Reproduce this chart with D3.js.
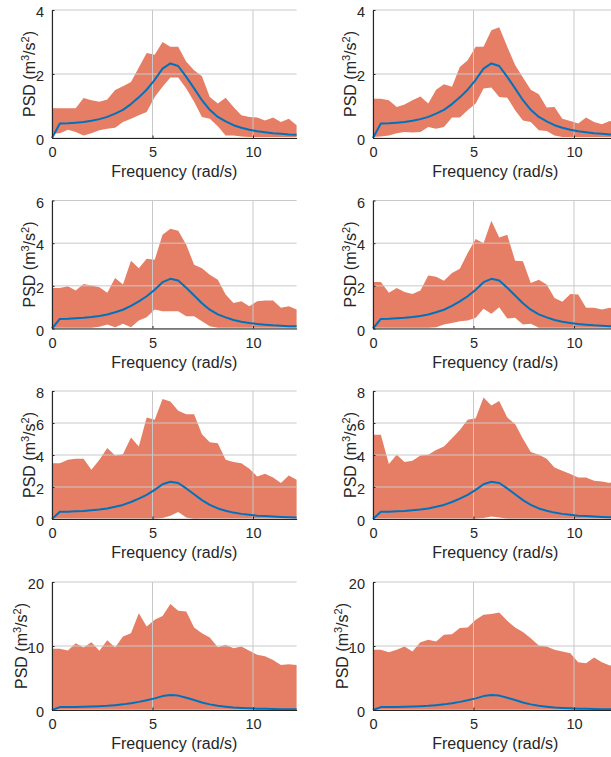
<!DOCTYPE html>
<html>
<head>
<meta charset="utf-8">
<script src="https://cdn.jsdelivr.net/npm/d3@7"></script>
<style>
  body { margin: 0; background: #fff; }
  svg { display: block; font-family: "Liberation Sans", Arial, sans-serif; }
</style>
</head>
<body>
<div id="chart"></div>
<script>

// frequency grid (rad/s)
const freq = [0, 0.39, 0.79, 1.18, 1.57, 1.96, 2.36, 2.75, 3.14, 3.53, 3.93, 4.32, 4.71, 5.11, 5.50, 5.89,
              6.28, 6.68, 7.07, 7.46, 7.85, 8.25, 8.64, 9.03, 9.42, 9.82, 10.21, 10.60, 11.00, 11.39, 11.78, 12.17];

// target spectrum (blue line), same in every panel
const theory = [0, 0.45, 0.46, 0.48, 0.50, 0.54, 0.59, 0.66, 0.76, 0.88, 1.06, 1.27, 1.51, 1.82, 2.17, 2.33,
                2.25, 1.91, 1.55, 1.18, 0.88, 0.66, 0.52, 0.40, 0.32, 0.26, 0.21, 0.18, 0.15, 0.13, 0.11, 0.10];

// envelopes (upper / lower) for each panel
const upper1 = [0.93, 0.93, 0.93, 0.93, 1.25, 1.18, 1.13, 1.20, 1.50, 1.62, 1.75, 2.20, 2.66, 2.60, 3.00, 2.85,
                2.85, 2.38, 2.12, 1.93, 1.28, 1.08, 1.26, 0.97, 0.71, 0.66, 0.64, 0.55, 0.64, 0.50, 0.60, 0.40];
const lower1 = [0.13, 0.15, 0.26, 0.19, 0.08, 0.15, 0.24, 0.29, 0.32, 0.50, 0.60, 0.71, 0.81, 1.28, 1.60, 1.89,
                1.89, 1.55, 1.13, 0.66, 0.60, 0.37, 0.08, 0.08, 0.05, 0.03, 0.03, 0.03, 0.03, 0.03, 0.03, 0.03];

const upper2 = [1.23, 1.23, 1.18, 0.97, 1.05, 1.18, 1.30, 1.08, 1.51, 1.68, 1.60, 2.22, 2.43, 2.85, 2.85, 3.37,
                3.46, 2.85, 2.28, 1.89, 1.51, 1.37, 0.95, 0.97, 0.60, 0.53, 0.45, 0.64, 0.50, 0.43, 0.53, 0.50];
const lower2 = [0.03, 0.05, 0.08, 0.15, 0.19, 0.17, 0.19, 0.34, 0.29, 0.34, 0.64, 0.64, 0.87, 1.08, 1.55, 1.58,
                1.28, 1.26, 0.87, 0.55, 0.50, 0.24, 0.22, 0.08, 0.03, 0.03, 0.03, 0.03, 0.03, 0.03, 0.03, 0.03];

const upper3 = [1.90, 1.90, 1.98, 1.78, 2.09, 2.01, 1.93, 1.67, 2.37, 2.06, 3.18, 2.83, 3.27, 3.22, 4.39, 4.67,
                4.58, 3.93, 2.99, 2.83, 2.52, 2.29, 1.59, 1.20, 1.28, 1.04, 1.28, 1.31, 1.31, 0.97, 1.04, 0.89];
const lower3 = [0.03, 0.03, 0.03, 0.03, 0.03, 0.03, 0.08, 0.19, 0.06, 0.22, 0.06, 0.37, 0.53, 0.89, 0.81, 0.81,
                0.81, 0.58, 0.58, 0.34, 0.11, 0.03, 0.03, 0.03, 0.03, 0.03, 0.03, 0.03, 0.03, 0.03, 0.03, 0.03];

const upper4 = [2.18, 2.18, 1.67, 1.90, 1.71, 1.62, 1.78, 2.49, 2.43, 2.24, 2.60, 2.80, 3.54, 4.20, 4.00, 5.05,
                4.27, 4.39, 3.18, 3.15, 2.13, 2.29, 2.06, 1.43, 1.25, 1.62, 1.59, 0.97, 0.97, 0.89, 0.97, 0.90];
const lower4 = [0.03, 0.03, 0.03, 0.03, 0.03, 0.03, 0.03, 0.03, 0.06, 0.19, 0.26, 0.34, 0.37, 0.50, 0.93, 0.69,
                1.00, 0.47, 0.50, 0.19, 0.22, 0.03, 0.03, 0.03, 0.03, 0.03, 0.03, 0.03, 0.03, 0.03, 0.03, 0.03];

const upper5 = [3.49, 3.49, 3.70, 3.76, 3.76, 3.08, 3.70, 4.43, 3.97, 4.05, 5.09, 4.53, 6.34, 6.20, 7.50, 7.34,
                6.76, 6.55, 6.55, 5.30, 4.80, 4.74, 3.70, 3.56, 3.49, 3.14, 2.66, 2.83, 2.60, 2.25, 2.72, 2.45];
const lower5 = [0.02, 0.02, 0.02, 0.02, 0.02, 0.02, 0.02, 0.02, 0.02, 0.02, 0.02, 0.02, 0.02, 0.02, 0.06, 0.20,
                0.44, 0.10, 0.00, 0.02, 0.02, 0.02, 0.02, 0.02, 0.02, 0.02, 0.02, 0.02, 0.02, 0.02, 0.02, 0.02];

const upper6 = [5.26, 5.26, 3.43, 4.01, 3.56, 3.64, 3.97, 4.01, 4.32, 4.53, 5.05, 5.57, 6.20, 6.30, 7.59, 7.09,
                7.38, 6.34, 5.93, 5.01, 4.18, 4.01, 3.76, 3.22, 3.01, 2.81, 2.60, 2.60, 2.39, 2.35, 2.25, 2.56];
const lower6 = [0.02, 0.02, 0.02, 0.02, 0.02, 0.02, 0.02, 0.02, 0.02, 0.02, 0.02, 0.02, 0.02, 0.02, 0.06, 0.15,
                0.10, 0.02, 0.02, 0.02, 0.02, 0.02, 0.02, 0.02, 0.02, 0.02, 0.02, 0.02, 0.02, 0.02, 0.02, 0.02];

const upper7 = [9.56, 9.56, 9.30, 10.44, 9.77, 10.60, 9.24, 10.90, 9.77, 11.49, 12.00, 15.10, 13.05, 14.10, 14.70, 16.55,
                15.50, 15.40, 12.90, 12.00, 11.33, 9.82, 10.20, 9.66, 9.92, 9.24, 8.62, 8.41, 7.83, 7.05, 7.15, 7.05];
const lower7 = [0, 0, 0, 0, 0, 0, 0, 0, 0, 0, 0, 0, 0, 0, 0, 0, 0, 0, 0, 0, 0, 0, 0, 0, 0, 0, 0, 0, 0, 0, 0, 0];

const upper8 = [9.40, 9.40, 9.03, 9.40, 9.92, 9.14, 10.60, 10.97, 10.70, 11.75, 11.85, 12.80, 12.90, 14.10, 14.88, 14.99,
                15.25, 13.94, 12.90, 12.17, 11.23, 10.08, 9.92, 9.40, 9.14, 8.88, 7.47, 7.31, 8.20, 7.47, 6.95, 6.90];
const lower8 = [0, 0, 0, 0, 0, 0, 0, 0, 0, 0, 0, 0, 0, 0, 0, 0, 0, 0, 0, 0, 0, 0, 0, 0, 0, 0, 0, 0, 0, 0, 0, 0];

// y ticks for each row of panels
const yTicksRow = [[0, 2, 4], [0, 2, 4, 6], [0, 2, 4, 6, 8], [0, 10, 20]];
const xTicks = [0, 5, 10];

const uppers = [upper1, upper2, upper3, upper4, upper5, upper6, upper7, upper8];
const lowers = [lower1, lower2, lower3, lower4, lower5, lower6, lower7, lower8];

let width = 611;
let height = 757;

let svg = d3.select("#chart")
    .append("svg")
    .attr("width", width)
    .attr("height", height);

const colLeft = [52, 373];
const rowTop = [10, 200.5, 391, 582];
const plotW = 244.6;
const plotH = 128;

const fillColor = "#e57e64";
const lineColor = "#0072bd";
const axisColor = "#262626";

for (let i = 0; i < 8; i++) {
    const row = Math.floor(i / 2);
    const col = i % 2;
    const yTicks = yTicksRow[row];

    const x = d3.scaleLinear()
        .domain([0, freq[freq.length - 1]])
        .range([0, plotW]);
    const y = d3.scaleLinear()
        .domain([0, yTicks[yTicks.length - 1]])
        .range([plotH, 0]);

    const g = svg.append("g")
        .attr("transform", `translate(${colLeft[col]},${rowTop[row]})`);

    const pts = freq.map((f, k) => ({ f: f, lo: lowers[i][k], hi: uppers[i][k], t: theory[k] }));

    g.append("path")
        .datum(pts)
        .attr("fill", fillColor)
        .attr("d", d3.area()
            .x(d => x(d.f))
            .y0(d => y(d.lo))
            .y1(d => y(d.hi)));

    // grid drawn on top of the band
    g.append("g")
        .selectAll("line.gx")
        .data(xTicks)
        .join("line")
        .attr("x1", d => x(d)).attr("x2", d => x(d))
        .attr("y1", 0).attr("y2", plotH)
        .attr("stroke", "#c9c9c9")
        .attr("stroke-width", 1);
    g.append("g")
        .selectAll("line.gy")
        .data(yTicks)
        .join("line")
        .attr("x1", 0).attr("x2", plotW)
        .attr("y1", d => y(d)).attr("y2", d => y(d))
        .attr("stroke", "#c9c9c9")
        .attr("stroke-width", 1);

    g.append("path")
        .datum(pts)
        .attr("fill", "none")
        .attr("stroke", lineColor)
        .attr("stroke-width", 2)
        .attr("stroke-linejoin", "round")
        .attr("d", d3.line()
            .x(d => x(d.f))
            .y(d => y(d.t)));

    // axes (MATLAB style: inward ticks, no box)
    const ax = g.append("g")
        .attr("transform", `translate(0,${plotH})`)
        .call(d3.axisBottom(x).tickValues(xTicks).tickFormat(d3.format("d"))
            .tickSizeInner(-2.5).tickSizeOuter(0).tickPadding(9));
    const ay = g.append("g")
        .call(d3.axisLeft(y).tickValues(yTicks).tickFormat(d3.format("d"))
            .tickSizeInner(-2.5).tickSizeOuter(0).tickPadding(8));

    [ax, ay].forEach(a => {
        a.select(".domain").attr("stroke", axisColor).attr("stroke-width", 1.1);
        a.selectAll(".tick line").attr("stroke", axisColor);
        a.selectAll(".tick text")
            .attr("fill", axisColor)
            .style("font-size", "14.5px")
            .style("font-family", "'Liberation Sans', Arial, sans-serif");
    });
    ax.selectAll(".tick text").attr("dy", "0.72em");
    ay.selectAll(".tick text").attr("dy", "0.45em");

    g.append("text")
        .attr("x", plotW / 2)
        .attr("y", plotH + 39)
        .attr("text-anchor", "middle")
        .attr("fill", axisColor)
        .style("font-size", "16px")
        .text("Frequency (rad/s)");

    const maxLen = d3.max(yTicks, t => String(t).length);
    const labOff = 8.5 + maxLen * 8.2;
    const yl = g.append("text")
        .attr("transform", `translate(${-labOff},${plotH / 2}) rotate(-90)`)
        .attr("text-anchor", "middle")
        .attr("fill", axisColor)
        .style("font-size", "16px");
    yl.append("tspan").text("PSD (m");
    yl.append("tspan").attr("dy", -6).style("font-size", "11px").text("3");
    yl.append("tspan").attr("dy", 6).text("/s");
    yl.append("tspan").attr("dy", -6).style("font-size", "11px").text("2");
    yl.append("tspan").attr("dy", 6).text(")");
}

</script>
</body>
</html>
